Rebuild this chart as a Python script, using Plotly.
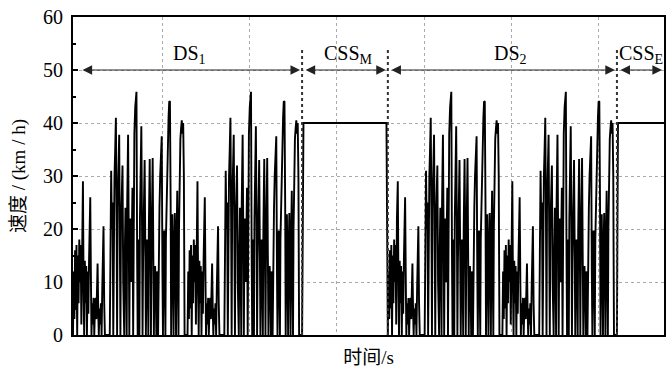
import plotly.graph_objects as go

# ---------------- data ----------------
# one driving-cycle unit (time in s, speed in km/h)
cycle_t = [0, 4, 8, 12, 16, 20, 24, 28, 32, 36, 40, 44, 48, 52, 57, 61, 64, 68, 72, 76, 80,
           84, 88, 92, 96, 99, 103, 106, 110, 114, 118, 122, 126, 130, 134, 138, 141, 145, 148,
           152, 156, 160, 164, 168, 172, 175, 179, 183, 211,
           215, 219, 223, 227, 231, 234, 238, 242, 246, 250, 253, 256, 260, 265, 269, 272, 275,
           279, 284, 288, 291, 294, 297, 301, 305, 308, 311, 316, 320, 323, 326, 330, 334, 337,
           341, 345, 348, 352, 357, 364, 368, 371, 374, 378, 381, 384, 388, 392, 396, 399, 402,
           406, 411, 415, 418, 421, 425, 429, 432, 435, 440, 444, 447,
           450, 453, 457, 461, 464, 467, 471, 475, 478, 481, 485, 488, 491, 496, 500, 505, 509,
           513, 516, 519, 523, 527, 530, 533, 538, 542, 548, 552, 556, 560, 563,
           566, 570, 574, 577, 580, 584, 588, 591, 594, 598, 602, 605, 608, 612, 616, 620, 624,
           628, 632, 636, 640, 657]
cycle_v = [0, 12, 3, 16, 5, 17, 0, 15, 6, 18, 10, 17, 2, 22, 29, 8, 0, 14, 6, 13, 0,
           12, 4, 14, 20, 26, 10, 0, 6, 2, 7, 0, 5, 7, 3, 9, 13.5, 4, 0,
           5, 2, 6, 0, 9, 16, 20.5, 6, 0, 0,
           18, 31, 20, 25, 0, 22, 30, 35, 41, 22, 0, 24, 32, 37.8, 16, 0, 20,
           28, 32, 10, 4, 0, 15, 24, 12, 0, 25, 37.8, 18, 0, 16, 22, 10, 19,
           27.8, 0, 28, 38, 43, 45.9, 14, 0, 18, 9, 0, 22, 33, 39.4, 20, 0, 14,
           26, 33, 15, 0, 9, 18, 12, 0, 20, 33.2, 18, 0,
           15, 23, 33.4, 14, 0, 11, 13, 8, 0, 12, 10, 0, 14, 24, 30, 35, 37.5,
           12, 0, 15, 19.7, 8, 0, 18, 28, 35, 41, 44.1, 44, 25, 0,
           14, 22.8, 10, 0, 16, 23, 12, 0, 18, 27.2, 10, 0, 20, 35, 37, 39, 40.5,
           38, 40, 30, 0, 0]

# start times of the four cycle units (two in DS1, two in DS2)
cycle_offsets = [0, 657, 1806, 2463]

# constant-speed segments
cssm_t = [1314, 1322, 1798, 1806]
cssm_v = [0, 40, 40, 0]
csse_t = [3120, 3126, 3390]
csse_v = [0, 40, 40]

# segment boundaries and labels
seg_bounds = [0, 1314, 1806, 3120, 3390]
seg_labels = ["DS<sub>1</sub>", "CSS<sub>M</sub>", "DS<sub>2</sub>", "CSS<sub>E</sub>"]
seg_label_x = [669, 1583, 2509, 3257]
arrow_level = 50
label_level = 53.0
sep_top = 54

x_grid = [514, 1014, 1514, 2014, 2514, 3014]
y_ticks = [0, 10, 20, 30, 40, 50, 60]

# ---------------- build trace ----------------
xs, ys = [], []
for i, off in enumerate(cycle_offsets):
    xs += [off + t for t in cycle_t]
    ys += list(cycle_v)
    if i == 1:
        xs += cssm_t
        ys += cssm_v
xs += csse_t
ys += csse_v

fig = go.Figure()
fig.add_trace(go.Scatter(x=xs, y=ys, mode="lines",
                         line=dict(color="black", width=1.9), hoverinfo="skip",
                         showlegend=False))

serif = "Liberation Serif, Times New Roman, serif"

# separators
for b in seg_bounds[1:-1]:
    fig.add_shape(type="line", x0=b, x1=b, y0=0, y1=sep_top, xref="x", yref="y",
                  line=dict(color="#333", width=2, dash="dot"))

# arrows and labels
for i in range(4):
    a, b = seg_bounds[i], seg_bounds[i + 1]
    fig.add_annotation(x=b, y=arrow_level, ax=a, ay=arrow_level, xref="x", yref="y",
                       axref="x", ayref="y", text="", showarrow=True,
                       arrowhead=2, startarrowhead=2, arrowside="end+start",
                       arrowsize=1.6, startarrowsize=1.6, arrowwidth=1.2,
                       arrowcolor="#222", standoff=2, startstandoff=8 if i == 0 else 2)
    fig.add_annotation(x=seg_label_x[i], y=label_level, xref="x", yref="y",
                       text=seg_labels[i], showarrow=False,
                       font=dict(family=serif, size=20, color="black"))

fig.update_layout(
    width=672, height=369,
    margin=dict(l=73, r=6, t=15, b=34),
    paper_bgcolor="white", plot_bgcolor="white",
    font=dict(family=serif, color="black"),
    xaxis=dict(range=[0, 3390], tickvals=x_grid, showticklabels=False, ticks="",
               showgrid=True, gridcolor="#aaa", griddash="dot", gridwidth=1,
               showline=True, linecolor="black", linewidth=2, mirror=True,
               zeroline=False,
               title=dict(text="时间/s", standoff=15,
                          font=dict(family="Liberation Serif, Noto Sans CJK SC", size=19))),
    yaxis=dict(range=[0, 60], tickvals=y_ticks, ticks="inside", ticklen=5,
               tickwidth=1.5, tickcolor="black",
               minor=dict(dtick=5, ticks="inside", ticklen=3, tickcolor="black", showgrid=False),
               tickfont=dict(family=serif, size=20, color="black"),
               ticklabelstandoff=4,
               showgrid=True, gridcolor="#aaa", griddash="dot", gridwidth=1,
               showline=True, linecolor="black", linewidth=2, mirror=True,
               zeroline=False,
               title=dict(text="速度 / (km / h)", standoff=12,
                          font=dict(family="Liberation Serif, Noto Sans CJK SC", size=19))),
)

fig.write_html("out.html")
